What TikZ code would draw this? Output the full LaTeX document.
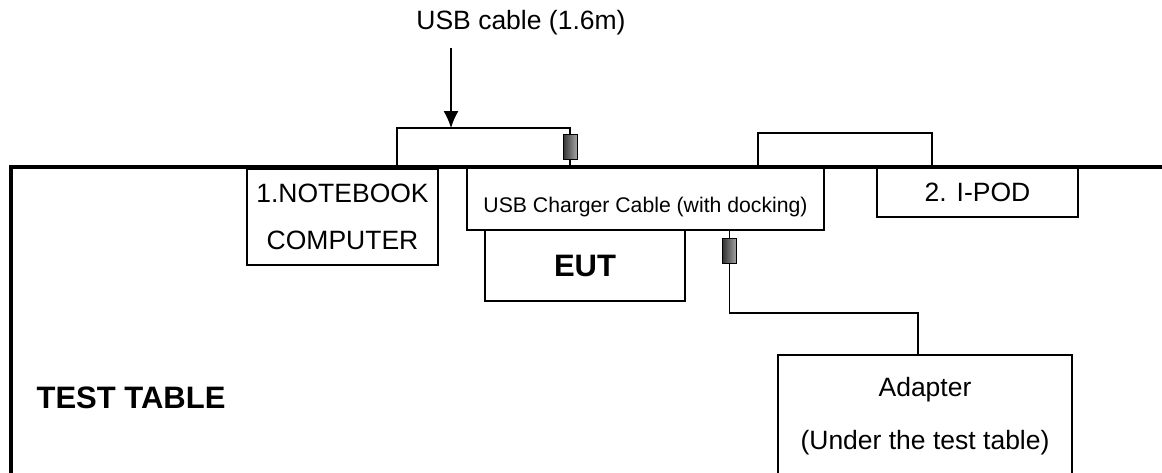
\documentclass[tikz,border=0pt]{standalone}
\usepackage{fontspec}
\setmainfont{Liberation Sans}
\usepackage{tikz}
\usetikzlibrary{calc,arrows.meta}
\tikzstyle{every picture}=[x=1pt,y=-1pt]
\tikzset{
  box/.style={draw,line width=1.3pt,inner sep=0pt,align=center,
    font=\fontsize{26.5}{47}\selectfont},
  wire/.style={-,line width=1.3pt},
  ferrite/.style={draw,line width=1pt,inner sep=0pt,minimum width=14pt,
    minimum height=25pt,left color=black!80,right color=black!35},
  txt/.style={inner sep=0pt,font=\fontsize{26.5}{47}\selectfont},
  bigtxt/.style={inner sep=0pt,font=\fontsize{31}{36}\selectfont\bfseries}
}

\begin{document}
\begin{tikzpicture}
\useasboundingbox (0,0) rectangle (1162,472);
% the test table edge
\draw[line width=4pt] (10.5,476) -- (10.5,167) -- (1166,167);
 \node[bigtxt] (tt) at (131,398) {TEST TABLE};

 \node[box,minimum width=191,minimum height=96] (nb) at (342.5,217)
   {1.NOTEBOOK\\COMPUTER};
 \node[box,minimum width=357,minimum height=62] (usb) at (645.5,199) {};
 \node[txt,font=\fontsize{21.2}{24}\selectfont] (usbt) at (645.5,207.5)
   {USB Charger Cable (with docking)};
 \node[box,minimum width=200,minimum height=71,font=\fontsize{31}{36}\selectfont\bfseries]
   (eut) at (585,265.5) {EUT};
 \node[box,minimum width=201,minimum height=49] (ipod) at (977.5,192.5) {2. I-POD};
 \node[box,minimum width=294,minimum height=123,
   font=\fontsize{26.5}{53}\selectfont] (adp) at (925,416.5)
   {Adapter\\(Under the test table)};

 \node[txt] (lbl) at (521,23) {USB cable (1.6m)};

 \node[ferrite] (f1) at (570,147) {};
 \node[ferrite] (f2) at (729.5,251) {};

 \coordinate (c1) at (397,128);
 \coordinate (c2) at (451,128);
 \coordinate (c3) at (758,133);
 \coordinate (c4) at (932,133);
 \coordinate (c5) at (918,313);

 % Now draw the cables
 \draw[wire] (c1 |- nb.north) -- (c1) -| (f1.north);
 \draw[wire] (f1.south) -- (f1 |- usb.north);
 \draw[wire] (c3 |- usb.north) -- (c3) -- (c4) -- (c4 |- ipod.north);
 \draw[wire] (f2 |- usb.south) -- (f2.north);
 \draw[wire] (f2.south) |- (c5) -- (c5 |- adp.north);
 \draw[-{Latex[length=17pt,width=15pt]},line width=1.3pt,shorten <=12pt]
   (lbl.south -| c2) -- (c2);
\end{tikzpicture}
\end{document}
